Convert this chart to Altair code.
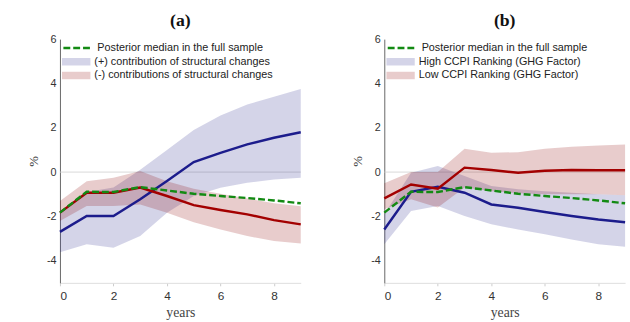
import altair as alt
import pandas as pd

years = list(range(10))
median = [-1.83, -0.89, -0.9, -0.68, -0.83, -0.98, -1.08, -1.17, -1.28, -1.41]

# Panel (a)
a_pos_label = "(+) contribution of structural changes"
a_neg_label = "(-) contributions of structural changes"
a_pos_mid = [-2.7, -1.98, -1.98, -1.23, -0.4, 0.45, 0.87, 1.25, 1.55, 1.8]
a_pos_lo = [-3.62, -3.26, -3.41, -2.89, -1.83, -1.08, -0.71, -0.48, -0.33, -0.26]
a_pos_hi = [-1.8, -0.9, -0.7, 0.1, 1.0, 1.9, 2.55, 3.05, 3.4, 3.75]
a_neg_mid = [-1.83, -0.93, -0.93, -0.7, -1.08, -1.49, -1.71, -1.91, -2.17, -2.36]
a_neg_lo = [-2.21, -1.53, -1.53, -1.46, -1.83, -2.26, -2.59, -2.89, -3.11, -3.22]
a_neg_hi = [-1.31, -0.41, -0.26, 0.05, -0.41, -0.75, -0.98, -1.19, -1.41, -1.54]

# Panel (b)
b_pos_label = "High CCPI Ranking (GHG Factor)"
b_neg_label = "Low CCPI Ranking (GHG Factor)"
b_pos_mid = [-2.59, -0.89, -0.66, -0.93, -1.46, -1.61, -1.8, -1.98, -2.14, -2.26]
b_pos_lo = [-3.26, -1.76, -1.53, -1.98, -2.36, -2.59, -2.81, -3.04, -3.26, -3.37]
b_pos_hi = [-1.9, -0.03, 0.27, -0.18, -0.63, -0.78, -0.86, -0.93, -1.0, -1.05]
b_neg_mid = [-1.19, -0.56, -0.75, 0.2, 0.09, -0.03, 0.06, 0.09, 0.08, 0.08]
b_neg_lo = [-1.68, -1.23, -1.6, -0.7, -0.86, -0.95, -1.0, -1.0, -1.0, -1.05]
b_neg_hi = [-0.5, 0.0, 0.0, 1.05, 0.87, 0.9, 1.05, 1.14, 1.2, 1.25]

median_label = "Posterior median in the full sample"
y_ticks = [-4, -2, 0, 2, 4, 6]
x_ticks = [0, 2, 4, 6, 8]

BLUE_FILL = "#2a2a8a"
RED_FILL = "#8b0000"
BLUE_LINE = "#1c1c8c"
RED_LINE = "#a30000"
GREEN = "#138a13"
SERIF = "Liberation Serif"
SANS = "Liberation Sans"

W, H = 245, 248


def panel(title, pos_label, neg_label, pos_mid, pos_lo, pos_hi, neg_mid, neg_lo, neg_hi):
    bands = pd.DataFrame({
        "x": years + years,
        "lo": pos_lo + neg_lo,
        "hi": pos_hi + neg_hi,
        "series": [pos_label] * 10 + [neg_label] * 10,
    })
    lines = pd.DataFrame({
        "x": years + years,
        "y": pos_mid + neg_mid,
        "series": ["pos"] * 10 + ["neg"] * 10,
    })
    med = pd.DataFrame({"x": years, "y": median, "name": [median_label] * 10})
    zero = pd.DataFrame({"y": [0]})

    xenc = alt.X("x:Q", scale=alt.Scale(domain=[0, 9], nice=False),
                 axis=alt.Axis(values=x_ticks, title="years"))
    yscale = alt.Scale(domain=[-5, 6], nice=False)
    yaxis = alt.Axis(values=y_ticks, title="%", labelExpr="datum.value + ''")

    band_layer = alt.Chart(bands).mark_area(opacity=0.2).encode(
        x=xenc,
        y=alt.Y("lo:Q", scale=yscale, axis=yaxis),
        y2="hi:Q",
        fill=alt.Fill("series:N",
                      scale=alt.Scale(domain=[pos_label, neg_label], range=[BLUE_FILL, RED_FILL]),
                      legend=alt.Legend(title=None, orient="none", legendX=2, legendY=16,
                                        symbolType="M-1,-0.27H1V0.27H-1Z", symbolSize=841,
                                        symbolOpacity=0.2, symbolStrokeWidth=0,
                                        clipHeight=14, rowPadding=0, labelOffset=4, labelLimit=0,
                                        labelFont=SANS, labelFontSize=11, labelColor="#222")),
    )
    zero_layer = alt.Chart(zero).mark_rule(color="#cfcfcf", strokeWidth=0.8).encode(
        y=alt.Y("y:Q", scale=yscale)
    )
    line_layer = alt.Chart(lines).mark_line(strokeWidth=2.5).encode(
        x=xenc,
        y=alt.Y("y:Q", scale=yscale),
        stroke=alt.Stroke("series:N", scale=alt.Scale(domain=["pos", "neg"], range=[BLUE_LINE, RED_LINE]),
                          legend=None),
    )
    med_layer = alt.Chart(med).mark_line(strokeWidth=2.5, color=GREEN).encode(
        x=xenc,
        y=alt.Y("y:Q", scale=yscale),
        strokeDash=alt.StrokeDash("name:N", scale=alt.Scale(domain=[median_label], range=[[7, 3]]),
                                  legend=alt.Legend(title=None, orient="none", legendX=2, legendY=2,
                                                    symbolType="stroke", symbolSize=841,
                                                    symbolStrokeColor=GREEN, symbolStrokeWidth=2.5,
                                                    clipHeight=14, labelOffset=4, labelLimit=0,
                                                    labelFont=SANS, labelFontSize=11, labelColor="#222")),
    )
    return alt.layer(zero_layer, band_layer, line_layer, med_layer).properties(
        width=W, height=H,
        title=alt.Title(title, font=SERIF, fontSize=18, fontWeight="bold", color="#111", offset=3),
    ).resolve_scale(fill="independent", stroke="independent", strokeDash="independent")


pa = panel("(a)", a_pos_label, a_neg_label, a_pos_mid, a_pos_lo, a_pos_hi, a_neg_mid, a_neg_lo, a_neg_hi)
pb = panel("(b)", b_pos_label, b_neg_label, b_pos_mid, b_pos_lo, b_pos_hi, b_neg_mid, b_neg_lo, b_neg_hi)

chart = alt.hconcat(pa, pb, spacing=47).resolve_scale(
    fill="independent", stroke="independent", strokeDash="independent"
).resolve_legend(fill="independent", strokeDash="independent").properties(
    padding={"left": 28, "top": 10, "right": 0, "bottom": 0},
    background="white",
).configure_view(stroke=None).configure_axisY(
    domainColor="#666", domainWidth=1, ticks=False, grid=False,
    labelFont=SANS, labelFontSize=11, labelColor="#333", labelPadding=4,
    titleFont=SERIF, titleFontSize=13, titleFontWeight="normal", titleColor="#333", titlePadding=6,
).configure_axisX(
    domainColor="#dddddd", domainWidth=1, tickColor="#cccccc", tickSize=3, grid=False,
    labelFont=SANS, labelFontSize=12, labelColor="#333", labelPadding=5,
    titleFont=SERIF, titleFontSize=14, titleFontWeight="normal", titleColor="#444", titlePadding=4,
)

chart.save("out.html", embed_options={"renderer": "svg", "actions": False})
